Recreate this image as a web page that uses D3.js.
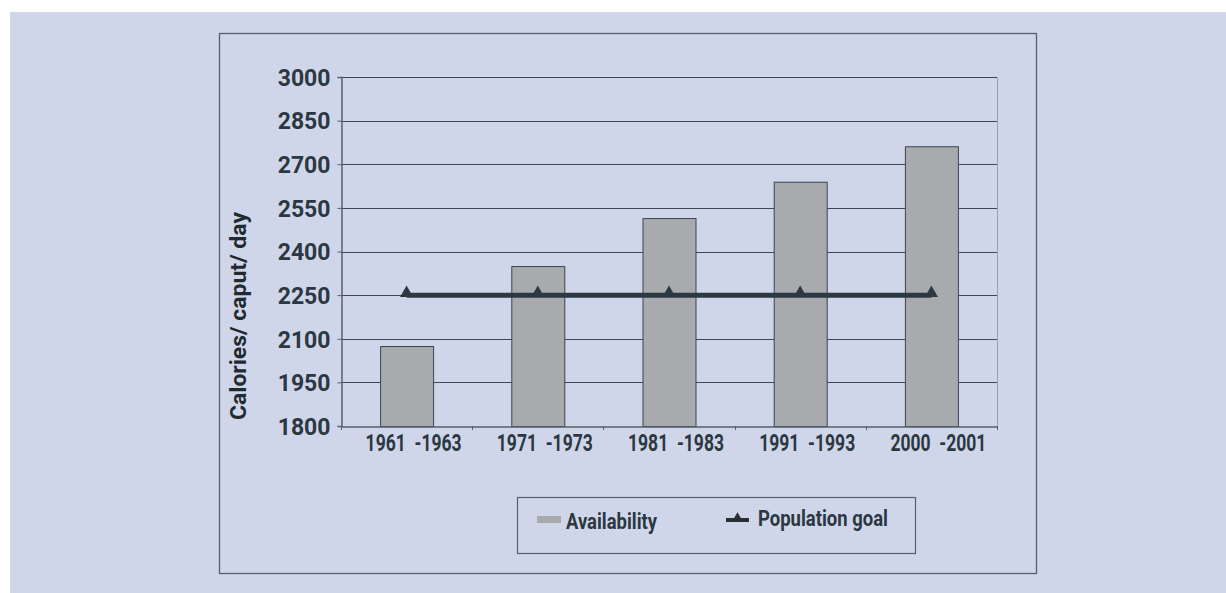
<!DOCTYPE html>
<html>
<head>
<meta charset="utf-8">
<script src="https://cdn.jsdelivr.net/npm/d3@7"></script>
<style>
  html, body { margin: 0; padding: 0; background: #ffffff; }
  svg { display: block; }
</style>
</head>
<body>
<svg id="chart" width="1226" height="593"></svg>
<script>
// Chart data
const categories = ["1961  -1963", "1971  -1973", "1981  -1983", "1991  -1993", "2000  -2001"];
const availability = [2075, 2350, 2515, 2640, 2762];
const populationGoal = [2250, 2250, 2250, 2250, 2250];
const yTicks = [1800, 1950, 2100, 2250, 2400, 2550, 2700, 2850, 3000];
const seriesNames = ["Availability", "Population goal"];

const ink = "#2c3841";
const panelFill = "#d0d6ea";
const barFill = "#a9aaad";
const font = "Roboto, 'Liberation Sans', Arial, sans-serif";

const svg = d3.select("#chart");

// background panel
svg.append("rect").attr("x", 10).attr("y", 12).attr("width", 1216).attr("height", 581)
  .attr("fill", panelFill);

// outer chart frame
svg.append("rect").attr("x", 219.5).attr("y", 33.5).attr("width", 817).attr("height", 540)
  .attr("fill", "none").attr("stroke", "#56606a").attr("stroke-width", 1.3);

const plot = { left: 341, right: 997, top: 77, bottom: 426 };

const x = d3.scaleBand().domain(categories).range([plot.left, plot.right]).paddingInner(0).paddingOuter(0);
const y = d3.scaleLinear().domain([1800, 3000]).range([plot.bottom, plot.top]);

// horizontal gridlines
svg.append("g").selectAll("line").data(yTicks.filter(t => t > 1800)).join("line")
  .attr("x1", plot.left).attr("x2", plot.right)
  .attr("y1", d => Math.round(y(d)) + 0.5).attr("y2", d => Math.round(y(d)) + 0.5)
  .attr("stroke", "#3c4852").attr("stroke-width", 1);

// right edge of the plot area
svg.append("line").attr("x1", plot.right + 0.5).attr("x2", plot.right + 0.5)
  .attr("y1", plot.top).attr("y2", plot.bottom).attr("stroke", "#9aa3b0").attr("stroke-width", 1);

// bars
const barW = 53;
svg.append("g").selectAll("rect").data(availability).join("rect")
  .attr("x", (d, i) => x(categories[i]) + x.bandwidth() / 2 - barW / 2 + 0.5)
  .attr("y", d => y(d) + 0.5)
  .attr("width", barW)
  .attr("height", d => y(1800) - y(d))
  .attr("fill", barFill).attr("stroke", "#3a4550").attr("stroke-width", 1);

// y axis
const yAxis = svg.append("g").attr("transform", `translate(${plot.left + 0.5},0)`)
  .call(d3.axisLeft(y).tickValues(yTicks).tickSize(4).tickPadding(7).tickFormat(d3.format("d")));
yAxis.select(".domain").attr("stroke", "#56606a").attr("stroke-width", 1.5);
yAxis.selectAll(".tick line").attr("stroke", "#56606a");
yAxis.selectAll(".tick text").attr("fill", ink)
  .style("font-family", font).style("font-weight", "700").style("font-size", "23px")
  .attr("dy", "0.36em");

// x axis (labels condensed to the narrow face)
const xAxis = svg.append("g").attr("transform", `translate(0,${plot.bottom + 0.5})`)
  .call(d3.axisBottom(x).tickSize(0).tickPadding(8));
xAxis.select(".domain").attr("stroke", "#56606a").attr("stroke-width", 1.5);
xAxis.selectAll(".tick text").attr("fill", ink)
  .attr("x", 7)
  .attr("textLength", 96).attr("lengthAdjust", "spacingAndGlyphs")
  .style("font-family", font).style("font-weight", "700").style("font-size", "23px")
  .style("white-space", "pre");
// category boundary ticks
svg.append("g").selectAll("line").data(categories.concat([null])).join("line")
  .attr("x1", (d, i) => Math.round(plot.left + i * x.bandwidth()) + 0.5)
  .attr("x2", (d, i) => Math.round(plot.left + i * x.bandwidth()) + 0.5)
  .attr("y1", plot.bottom).attr("y2", plot.bottom + 4)
  .attr("stroke", "#56606a").attr("stroke-width", 1);

// y axis title
svg.append("text")
  .attr("transform", `translate(${246},${316}) rotate(-90)`)
  .attr("text-anchor", "middle")
  .attr("fill", "#1f2a31")
  .attr("textLength", 208).attr("lengthAdjust", "spacingAndGlyphs")
  .style("font-family", font).style("font-weight", "700").style("font-size", "22px")
  .text("Calories/ caput/ day");

// population goal line with triangle markers
const line = d3.line().x((d, i) => x(categories[i]) + x.bandwidth() / 2).y(d => y(d));
svg.append("path").datum(populationGoal).attr("d", line)
  .attr("fill", "none").attr("stroke", "#2d3942").attr("stroke-width", 5);
const tri = d3.symbol().type(d3.symbolTriangle).size(75);
svg.append("g").selectAll("path").data(populationGoal).join("path")
  .attr("transform", (d, i) => `translate(${x(categories[i]) + x.bandwidth() / 2},${y(d) - 2})`)
  .attr("d", tri).attr("fill", "#2d3942");

// legend
svg.append("rect").attr("x", 517.5).attr("y", 497.5).attr("width", 398).attr("height", 56)
  .attr("fill", "none").attr("stroke", "#56606a").attr("stroke-width", 1.2);
svg.append("rect").attr("x", 537).attr("y", 516).attr("width", 24).attr("height", 7).attr("fill", barFill);
svg.append("text").attr("x", 566).attr("y", 529).attr("fill", ink)
  .attr("textLength", 91).attr("lengthAdjust", "spacingAndGlyphs")
  .style("font-family", font).style("font-weight", "700").style("font-size", "22px")
  .text(seriesNames[0]);
svg.append("line").attr("x1", 726).attr("x2", 749).attr("y1", 520).attr("y2", 520)
  .attr("stroke", "#2a2f33").attr("stroke-width", 4);
svg.append("path").attr("transform", "translate(737.5,517)")
  .attr("d", d3.symbol().type(d3.symbolTriangle).size(30)).attr("fill", "#2a2f33");
svg.append("text").attr("x", 758).attr("y", 526).attr("fill", ink)
  .attr("textLength", 130).attr("lengthAdjust", "spacingAndGlyphs")
  .style("font-family", font).style("font-weight", "700").style("font-size", "22px")
  .text(seriesNames[1]);
</script>
</body>
</html>
